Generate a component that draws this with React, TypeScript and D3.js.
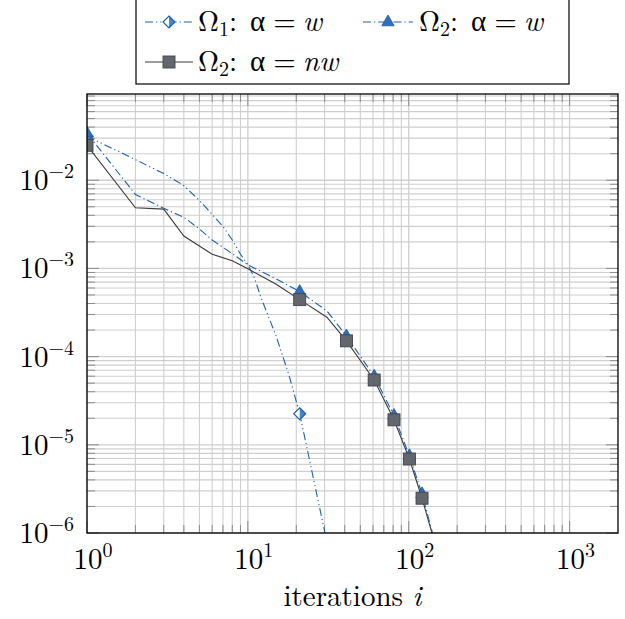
import React from 'react';
import * as d3 from 'd3';

// iteration index and residual
const omega1W_i = [1, 2, 3, 4, 5, 6, 7, 8, 9, 10, 11, 12, 15, 18, 21, 31];
const omega1W_v = [0.0316, 0.0171, 0.0119, 8.7e-3, 5.9e-3, 4.1e-3, 3.0e-3, 2.1e-3, 1.45e-3, 1.1e-3, 7.8e-4, 4.8e-4, 1.7e-4, 6.2e-5, 2.25e-5, 7.9e-7];

const omega2W_i = [1, 2, 3, 4, 5, 6, 8, 10, 15, 21, 31, 41, 61, 81, 101, 121, 141];
const omega2W_v = [0.0341, 6.9e-3, 4.8e-3, 3.8e-3, 2.8e-3, 2.1e-3, 1.47e-3, 1.1e-3, 7.6e-4, 5.46e-4, 3.3e-4, 1.71e-4, 5.98e-5, 2.15e-5, 7.5e-6, 2.78e-6, 9.8e-7];

const omega2NW_i = [1, 2, 3, 4, 6, 8, 10, 15, 21, 31, 41, 61, 81, 101, 121, 141];
const omega2NW_v = [0.0249, 4.87e-3, 4.7e-3, 2.33e-3, 1.45e-3, 1.22e-3, 9.9e-4, 6.6e-4, 4.43e-4, 2.8e-4, 1.51e-4, 5.43e-5, 1.92e-5, 6.9e-6, 2.48e-6, 9.3e-7];

const markEvery = 20;

const xDecades = [0, 1, 2, 3];
const yDecades = [-6, -5, -4, -3, -2];

const W = 625;
const H = 619;
const margin = { left: 87, right: 7, top: 94, bottom: 86 };
const FONT = "'Latin Modern Roman', 'Liberation Serif', serif";
const GREEK = "'Liberation Serif', serif";
const BLUE = '#1f61ad';

const zip = (xs: number[], vs: number[]) => xs.map((x, k) => ({ i: x, v: vs[k] }));

const Sup = ({ base, exp, ...rest }: any) => (
  <text {...rest} style={{ fontFamily: FONT }}>
    {base}
    <tspan fontSize={20} dy={-12}>{exp}</tspan>
  </text>
);

const Diamond = ({ x, y }: { x: number; y: number }) => (
  <g transform={`translate(${x},${y})`}>
    <path d="M0,-6L6,0L0,6L-6,0Z" fill="#fff" />
    <path d="M0,-6L6,0L0,6Z" fill="#4a86c8" />
    <path d="M0,-6L6,0L0,6L-6,0Z" fill="none" stroke={BLUE} strokeWidth={1.2} />
  </g>
);

const Triangle = ({ x, y }: { x: number; y: number }) => (
  <path transform={`translate(${x},${y})`} d="M0,-7L6.2,3.8L-6.2,3.8Z" fill="#2f6fbb" stroke="#1d569a" strokeWidth={0.8} />
);

const Square = ({ x, y }: { x: number; y: number }) => (
  <rect x={x - 6} y={y - 6} width={12} height={12} fill="#63666d" stroke="#42454b" strokeWidth={0.9} />
);

const Label = ({ sub, rhs, x, y }: { sub: string; rhs: string; x: number; y: number }) => (
  <text x={x} y={y} fontSize={29} style={{ fontFamily: FONT }}>
    Ω<tspan fontSize={20} dy={5}>{sub}</tspan>
    <tspan dy={-5}>:</tspan>
    <tspan dx={13} style={{ fontFamily: GREEK }}>α</tspan>
    <tspan dx={8}>=</tspan>
    <tspan dx={7} fontStyle="italic">{rhs}</tspan>
  </text>
);

export default function App() {
  const iw = W - margin.left - margin.right;
  const ih = H - margin.top - margin.bottom;

  const x = d3.scaleLog().domain([1, 2000]).range([0, iw]);
  const y = d3.scaleLog().domain([1e-6, 0.095]).range([ih, 0]);

  const minorX: number[] = [];
  xDecades.forEach(k => d3.range(2, 10).forEach(m => { const v = m * 10 ** k; if (v < 2000) minorX.push(v); }));
  const minorY: number[] = [];
  yDecades.forEach(k => d3.range(2, 10).forEach(m => { const v = m * 10 ** k; if (v < 0.095) minorY.push(v); }));

  const line = d3.line<{ i: number; v: number }>().x(d => x(d.i)).y(d => y(d.v));

  const s1 = zip(omega1W_i, omega1W_v);
  const s2 = zip(omega2W_i, omega2W_v);
  const s3 = zip(omega2NW_i, omega2NW_v);
  const marks = (s: { i: number; v: number }[]) => s.filter(d => (d.i - 1) % markEvery === 0 && d.v >= 1e-6);

  const gridColor = '#cfcfcf';
  const tickColor = '#8c8c8c';

  // legend is centred over the plot
  const legendLeft = 136;
  const legendRight = 2 * (margin.left + iw / 2) - legendLeft;

  return (
    <svg width={W} height={H} style={{ position: 'absolute', left: 0, top: 0, background: '#fff' }}>
      <defs>
        <clipPath id="plot">
          <rect x={0} y={0} width={iw} height={ih} />
        </clipPath>
      </defs>
      <g transform={`translate(${margin.left},${margin.top})`}>
        {/* grid */}
        {minorX.map(v => <line key={'gx' + v} x1={x(v)} x2={x(v)} y1={0} y2={ih} stroke={gridColor} strokeWidth={1.1} />)}
        {minorY.map(v => <line key={'gy' + v} x1={0} x2={iw} y1={y(v)} y2={y(v)} stroke={gridColor} strokeWidth={1.1} />)}
        {xDecades.map(k => <line key={'Gx' + k} x1={x(10 ** k)} x2={x(10 ** k)} y1={0} y2={ih} stroke={gridColor} strokeWidth={1.3} />)}
        {yDecades.map(k => <line key={'Gy' + k} x1={0} x2={iw} y1={y(10 ** k)} y2={y(10 ** k)} stroke={gridColor} strokeWidth={1.3} />)}

        {/* ticks, inward on all sides */}
        {minorX.map(v => (
          <g key={'tx' + v} stroke={tickColor} strokeWidth={1}>
            <line x1={x(v)} x2={x(v)} y1={ih} y2={ih - 8} />
            <line x1={x(v)} x2={x(v)} y1={0} y2={8} />
          </g>
        ))}
        {minorY.map(v => (
          <g key={'ty' + v} stroke={tickColor} strokeWidth={1}>
            <line x1={0} x2={8} y1={y(v)} y2={y(v)} />
            <line x1={iw} x2={iw - 8} y1={y(v)} y2={y(v)} />
          </g>
        ))}
        {xDecades.map(k => (
          <g key={'Tx' + k} stroke={tickColor} strokeWidth={1}>
            <line x1={x(10 ** k)} x2={x(10 ** k)} y1={ih} y2={ih - 12} />
            <line x1={x(10 ** k)} x2={x(10 ** k)} y1={0} y2={12} />
          </g>
        ))}
        {yDecades.map(k => (
          <g key={'Ty' + k} stroke={tickColor} strokeWidth={1}>
            <line x1={0} x2={12} y1={y(10 ** k)} y2={y(10 ** k)} />
            <line x1={iw} x2={iw - 12} y1={y(10 ** k)} y2={y(10 ** k)} />
          </g>
        ))}

        {/* series */}
        <g clipPath="url(#plot)">
          <path d={line(s3) || ''} fill="none" stroke="#3b3b3b" strokeWidth={1.1} />
          <path d={line(s2) || ''} fill="none" stroke={BLUE} strokeWidth={1.1} strokeDasharray="8 3 1.2 3" />
          <path d={line(s1) || ''} fill="none" stroke={BLUE} strokeWidth={1.1} strokeDasharray="8 3 1.2 3 1.2 3" />
          {marks(s1).map(d => <Diamond key={'d' + d.i} x={x(d.i)} y={y(d.v)} />)}
          {marks(s2).map(d => <Triangle key={'t' + d.i} x={x(d.i)} y={y(d.v)} />)}
          {marks(s3).map(d => <Square key={'s' + d.i} x={x(d.i)} y={y(d.v)} />)}
        </g>

        <rect x={0} y={0} width={iw} height={ih} fill="none" stroke="#000" strokeWidth={1.3} />

        {/* tick labels */}
        {xDecades.map(k => (
          <Sup key={'lx' + k} base="10" exp={String(k)} x={x(10 ** k) + 6} y={ih + 36} textAnchor="middle" fontSize={29} />
        ))}
        {yDecades.map(k => (
          <Sup key={'ly' + k} base="10" exp={'\u2212' + Math.abs(k)} x={-13} y={y(10 ** k) + 10} textAnchor="end" fontSize={29} />
        ))}

        <text x={iw / 2} y={ih + 73} textAnchor="middle" fontSize={29} style={{ fontFamily: FONT }}>
          iterations <tspan fontStyle="italic">i</tspan>
        </text>
      </g>

      {/* legend */}
      <g>
        <rect x={legendLeft} y={-1} width={legendRight - legendLeft} height={85} fill="#fff" stroke="#000" strokeWidth={1.2} />
        <line x1={145} x2={193} y1={22} y2={22} stroke={BLUE} strokeWidth={1.1} strokeDasharray="8 3 1.2 3 1.2 3" />
        <Diamond x={169} y={22} />
        <Label sub="1" rhs="w" x={198} y={31} />
        <line x1={363} x2={413} y1={22} y2={22} stroke={BLUE} strokeWidth={1.1} strokeDasharray="8 3 1.2 3" />
        <Triangle x={388} y={22} />
        <Label sub="2" rhs="w" x={419} y={31} />
        <line x1={145} x2={193} y1={62} y2={62} stroke="#3b3b3b" strokeWidth={1.1} />
        <Square x={169} y={62} />
        <Label sub="2" rhs="nw" x={198} y={71} />
      </g>
    </svg>
  );
}
